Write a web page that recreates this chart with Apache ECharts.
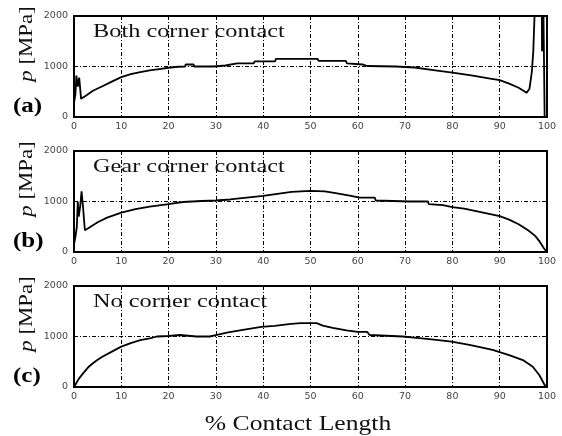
<!DOCTYPE html>
<html>
<head>
<meta charset="utf-8">
<script src="https://cdn.jsdelivr.net/npm/echarts@6/dist/echarts.min.js"></script>
<style>
  html, body { margin: 0; padding: 0; background: #fff; }
  #chart { width: 562px; height: 436px; }
</style>
</head>
<body>
<div id="chart"></div>
<script>
// Contact pressure along the tooth contact line for three corner-contact cases.
const xTicks = [0, 10, 20, 30, 40, 50, 60, 70, 80, 90, 100];
const yTicks = [0, 1000, 2000];

const panelTitles = ['Both corner contact', 'Gear corner contact', 'No corner contact'];
const panelTags = ['(a)', '(b)', '(c)'];
const xLabel = '% Contact Length';

// (a) both corners in contact: edge peaks at both ends
const posA = [0, 0.3, 0.5, 0.8, 1.1, 1.5, 2.5, 4, 6, 8, 10, 12, 14, 16, 18, 20, 22, 23.5, 23.6, 25.3, 25.4, 29.5, 32, 34.5, 38, 38.2, 42.5, 42.7, 51.5, 51.7, 57.5, 57.7, 61, 62, 68, 72, 76, 80, 84, 88, 90, 92, 94, 95.7, 96.3, 96.8, 97.1, 97.4, 98.9, 98.95, 99.2, 99.25, 99.4, 99.5, 100];
const presA = [280, 450, 820, 600, 780, 360, 420, 520, 610, 700, 790, 850, 890, 925, 950, 975, 995, 1000, 1040, 1040, 1000, 1000, 1020, 1060, 1060, 1100, 1100, 1150, 1150, 1110, 1110, 1060, 1040, 1010, 1000, 980, 930, 880, 825, 760, 730, 660, 580, 480, 560, 900, 1300, 2100, 2100, 1300, 1300, 2100, 2100, 0, 0];

// (b) gear corner in contact: peak at the start only
const posB = [0, 0.3, 0.6, 0.8, 1.0, 1.3, 1.6, 1.9, 2.3, 3, 5, 7, 10, 13, 16, 20, 23, 27, 30, 33, 36, 40, 43, 46, 50, 53, 55, 58, 60.4, 63.6, 63.8, 71, 74.8, 75, 78, 80, 82.5, 85, 87.5, 90, 92, 94, 96, 97.5, 98.5, 99.3, 100];
const presB = [150, 300, 500, 1000, 700, 900, 1200, 900, 430, 470, 590, 680, 780, 850, 900, 950, 990, 1010, 1020, 1040, 1070, 1110, 1150, 1190, 1210, 1200, 1170, 1120, 1075, 1075, 1020, 1000, 1000, 950, 930, 890, 860, 810, 760, 710, 640, 550, 430, 320, 200, 80, 0];

// (c) no corner contact
const posC = [0, 0.5, 1, 2, 3, 4, 5, 6, 8, 10, 12, 14, 16, 17.5, 20, 22.4, 25.9, 28.7, 30.2, 32.6, 35.7, 39.6, 42.4, 45.9, 48, 51.3, 52.6, 54.7, 57.6, 60, 62, 62.5, 69.5, 73, 76.6, 79.8, 83.6, 88.5, 92, 94.9, 97, 98.4, 99.5, 100];
const presC = [0, 80, 160, 280, 390, 470, 540, 600, 700, 800, 870, 930, 965, 1000, 1010, 1030, 1000, 1000, 1030, 1080, 1130, 1190, 1210, 1250, 1265, 1265, 1215, 1170, 1120, 1090, 1090, 1030, 1000, 967, 933, 900, 833, 733, 633, 533, 400, 233, 40, 0];

const panels = [[posA, presA], [posB, presB], [posC, presC]];

const gridLeft = 74, gridWidth = 473, gridHeight = 101;
const gridTops = [16, 151, 286];

const serif = '"Liberation Serif", "DejaVu Serif", serif';
const dashDot = [4, 2, 1, 2];

const grids = [], xAxes = [], yAxes = [], series = [], graphics = [];

gridTops.forEach((top, i) => {
  grids.push({
    left: gridLeft, top: top, width: gridWidth, height: gridHeight,
    show: true, borderColor: '#000', borderWidth: 2, backgroundColor: 'transparent'
  });
  xAxes.push({
    gridIndex: i, type: 'value',
    min: xTicks[0], max: xTicks[xTicks.length - 1], interval: xTicks[1] - xTicks[0],
    axisLine: { show: false }, axisTick: { show: false },
    splitLine: { show: true, lineStyle: { color: '#000', width: 1, type: dashDot } },
    axisLabel: { fontSize: 9.5, color: '#444', margin: 5, fontFamily: 'DejaVu Sans',
                 formatter: v => String(v) }
  });
  yAxes.push({
    gridIndex: i, type: 'value',
    min: yTicks[0], max: yTicks[yTicks.length - 1], interval: yTicks[1] - yTicks[0],
    axisLine: { show: false }, axisTick: { show: false },
    splitLine: { show: true, lineStyle: { color: '#000', width: 1, type: dashDot } },
    axisLabel: { fontSize: 9.5, color: '#444', margin: 6, fontFamily: 'DejaVu Sans',
                 formatter: v => String(v) }
  });
  const [pos, pres] = panels[i];
  series.push({
    type: 'line', xAxisIndex: i, yAxisIndex: i,
    data: pos.map((x, k) => [x, pres[k]]),
    showSymbol: false, clip: true, animation: false,
    lineStyle: { color: '#000', width: 1.8 }
  });

  // case title inside the plot
  graphics.push({
    type: 'text', x: 93, y: top + 16, scaleX: 1.28,
    style: { text: panelTitles[i], font: '19px ' + serif, fill: '#111',
             textAlign: 'left', textVerticalAlign: 'middle' }
  });
  // panel tag
  graphics.push({
    type: 'text', x: 13, y: top + 91, scaleX: 1.25,
    style: { text: panelTags[i], font: 'bold 20px ' + serif, fill: '#000',
             textAlign: 'left', textVerticalAlign: 'middle' }
  });
  // y axis name
  graphics.push({
    type: 'text', x: 27, y: top + 28, rotation: Math.PI / 2, scaleX: 1.2,
    style: { text: '{i|p} [MPa]', font: '19px ' + serif, fill: '#111',
             textAlign: 'center', textVerticalAlign: 'middle',
             rich: { i: { fontStyle: 'italic', fontFamily: serif, fontSize: 19 } } }
  });
});

graphics.push({
  type: 'text', x: 298, y: 424, scaleX: 1.22,
  style: { text: xLabel, font: '21px ' + serif, fill: '#111',
           textAlign: 'center', textVerticalAlign: 'middle' }
});

const chart = echarts.init(document.getElementById('chart'), null, { renderer: 'canvas' });
chart.setOption({
  animation: false,
  backgroundColor: '#fff',
  grid: grids,
  xAxis: xAxes,
  yAxis: yAxes,
  series: series,
  graphic: graphics
});
</script>
</body>
</html>
